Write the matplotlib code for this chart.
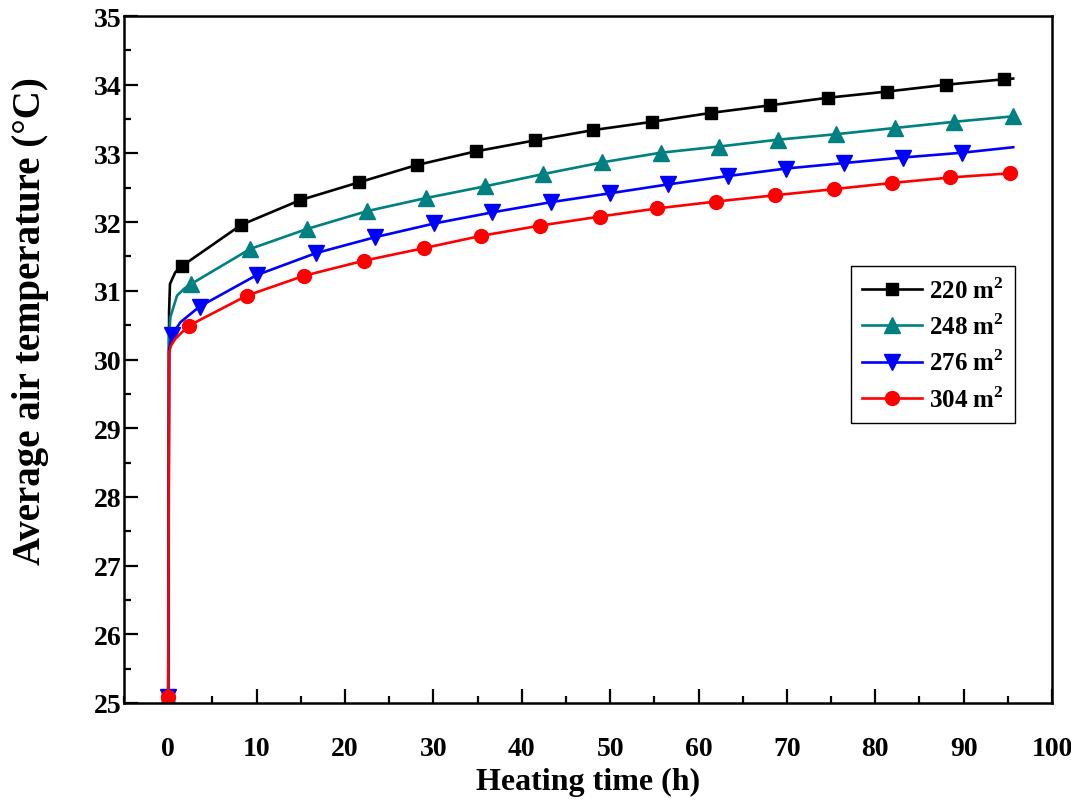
import matplotlib
matplotlib.use("Agg")
import matplotlib.pyplot as plt
from matplotlib.ticker import MultipleLocator

# Heating time (h) and average air temperature (degC)
t_220 = [0, 0.1, 0.2, 0.8, 1.55, 8.26, 14.93, 21.6, 28.1, 34.8, 41.5, 48.1,
         54.75, 61.4, 68.1, 74.6, 81.3, 88.0, 94.6, 95.6]
T_220 = [25.08, 30.7, 31.1, 31.27, 31.36, 31.96, 32.32, 32.58, 32.83, 33.03,
         33.19, 33.34, 33.46, 33.59, 33.70, 33.81, 33.90, 34.0, 34.08, 34.09]
mk_220 = [0] + list(range(4, 19))

t_248 = [0, 0.08, 0.25, 1.0, 1.8, 2.6, 9.28, 15.7, 22.5, 29.15, 35.8, 42.45,
         49.1, 55.7, 62.3, 69.0, 75.6, 82.2, 88.9, 95.6]
T_248 = [25.08, 30.3, 30.62, 30.93, 31.03, 31.10, 31.61, 31.90, 32.16, 32.35,
         32.52, 32.70, 32.87, 33.01, 33.10, 33.20, 33.28, 33.37, 33.46, 33.54]
mk_248 = [0] + list(range(5, 20))

t_276 = [0, 0.1, 0.42, 1.36, 3.54, 10.03, 16.74, 23.4, 30.1, 36.6, 43.3, 50.0,
         56.6, 63.3, 69.9, 76.5, 83.1, 89.8, 95.6]
T_276 = [25.08, 30.15, 30.35, 30.54, 30.77, 31.23, 31.55, 31.78, 31.98, 32.14,
         32.29, 32.42, 32.55, 32.67, 32.78, 32.86, 32.94, 33.01, 33.09]
mk_276 = [0, 2] + list(range(4, 18))

t_304 = [0, 0.1, 0.3, 0.8, 2.3, 8.9, 15.4, 22.2, 28.9, 35.4, 42.1, 48.8, 55.35,
         62.0, 68.6, 75.3, 81.9, 88.5, 95.2]
T_304 = [25.08, 30.1, 30.2, 30.3, 30.49, 30.93, 31.22, 31.44, 31.62, 31.80,
         31.95, 32.08, 32.20, 32.30, 32.39, 32.48, 32.57, 32.65, 32.71]
mk_304 = [0] + list(range(4, 19))

series = [
    ("220", t_220, T_220, mk_220, "black", "s", 9),
    ("248", t_248, T_248, mk_248, "#008080", "^", 11),
    ("276", t_276, T_276, mk_276, "#0000FF", "v", 11),
    ("304", t_304, T_304, mk_304, "#FF0000", "o", 10),
]

plt.rcParams["font.family"] = ["Liberation Serif", "DejaVu Serif"]
plt.rcParams["font.weight"] = "bold"
plt.rcParams["mathtext.fontset"] = "custom"
plt.rcParams["mathtext.rm"] = "Liberation Serif:bold"
plt.rcParams["mathtext.bf"] = "Liberation Serif:bold"

fig = plt.figure(figsize=(10.71, 8.03), dpi=100)
ax = fig.add_axes([0.1158, 0.1233, 0.8665, 0.8555])

for name, t, T, mk, color, marker, ms in series:
    ax.plot(t, T, color=color, lw=1.9, marker=marker, ms=ms, markevery=mk,
            label=name + r" m$^{\mathbf{2}}$")

ax.set_xlim(-5, 100)
ax.set_ylim(25, 35)
ax.xaxis.set_major_locator(MultipleLocator(10))
ax.xaxis.set_minor_locator(MultipleLocator(5))
ax.yaxis.set_major_locator(MultipleLocator(1))
ax.yaxis.set_minor_locator(MultipleLocator(0.5))
ax.tick_params(which="both", direction="in", width=1.6, labelsize=20,
               top=False, right=False)
ax.tick_params(which="major", length=10)
ax.tick_params(which="minor", length=5)
ax.tick_params(axis="x", pad=24)
ax.tick_params(axis="y", pad=2)
for sp in ax.spines.values():
    sp.set_linewidth(1.8)

ax.set_xlabel("Heating time (h)", fontsize=23, fontweight="bold")
ax.set_ylabel("Average air temperature (\u00b0C)", fontsize=28,
              fontweight="bold")
ax.xaxis.set_label_coords(0.5, -0.093)
ax.yaxis.set_label_coords(-0.081, 0.557)

leg = ax.legend(loc="upper left", bbox_to_anchor=(0.783, 0.636),
                borderaxespad=0, fontsize=18, fancybox=False, framealpha=1,
                edgecolor="black", handlelength=2.4, labelspacing=0.42,
                borderpad=0.45, handletextpad=0.3)
leg.get_frame().set_linewidth(1.0)

fig.savefig("out.png", dpi=100)
